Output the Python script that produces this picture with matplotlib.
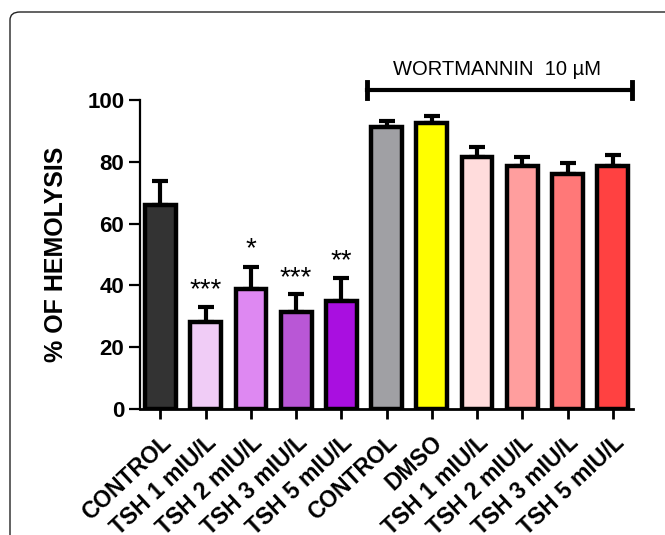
import matplotlib
matplotlib.use("Agg")
import matplotlib.pyplot as plt
from matplotlib.patches import FancyBboxPatch
import numpy as np

categories = ["CONTROL", "TSH 1 mIU/L", "TSH 2 mIU/L", "TSH 3 mIU/L", "TSH 5 mIU/L",
              "CONTROL", "DMSO", "TSH 1 mIU/L", "TSH 2 mIU/L", "TSH 3 mIU/L", "TSH 5 mIU/L"]
means = [66.0, 28.1, 39.0, 31.5, 35.0, 91.4, 92.6, 81.7, 78.5, 76.0, 78.5]
errors = [7.8, 4.8, 6.9, 5.7, 7.5, 1.8, 2.2, 3.0, 3.0, 3.5, 3.7]
colors = ["#333333", "#f0ccf6", "#de88f2", "#b957d6", "#a90fe0",
          "#a0a0a4", "#ffff00", "#ffdcdc", "#ff9e9e", "#ff7878", "#ff4141"]
stars = {1: "***", 2: "*", 3: "***", 4: "**"}
star_y = {1: 38.5, 2: 51.8, 3: 42.2, 4: 48.0}
yticks = [0, 20, 40, 60, 80, 100]
bracket_label = "WORTMANNIN  10 µM"

plt.rcParams['font.family'] = ['Liberation Sans', 'DejaVu Sans']

fig = plt.figure(figsize=(6.65, 5.35), dpi=100)
ax = fig.add_axes([0.21, 0.2355, 0.742, 0.5775])

x = np.arange(len(categories))
ax.bar(x, means, width=0.68, color=colors, edgecolor="black", linewidth=3.2, zorder=3)
ax.errorbar(x, means, yerr=[np.zeros(len(means)), errors], fmt="none",
            ecolor="black", elinewidth=3, capsize=6, capthick=3, zorder=2)

for i, s in stars.items():
    ax.text(x[i], star_y[i], s, ha="center", va="center", fontsize=20, color="black")

ax.set_xlim(-0.46, 10.45)
ax.set_ylim(0, 100)
ax.set_yticks(yticks)
ax.set_yticklabels([str(t) for t in yticks], fontsize=16, fontweight="bold")
ax.set_xticks(x)
ax.set_xticklabels(categories, rotation=43, ha="right", rotation_mode="anchor",
                   fontsize=16.5, fontweight="bold")
ax.tick_params(axis="y", direction="out", length=8, width=1.6, pad=3)
ax.tick_params(axis="x", direction="out", length=7, width=2, pad=9)
ax.set_ylabel("% OF HEMOLYSIS", fontsize=18, fontweight="bold", labelpad=14)

for side in ["top", "right"]:
    ax.spines[side].set_visible(False)
ax.spines["left"].set_linewidth(1.6)
ax.spines["bottom"].set_linewidth(2)

# bracket
bx0, bx1, by = 4.56, 10.42, 103.3
ax.plot([bx0, bx1], [by, by], color="black", lw=3, clip_on=False)
ax.plot([bx0, bx0], [by - 2.5, by + 2.5], color="black", lw=3.5, clip_on=False)
ax.plot([bx1, bx1], [by - 2.5, by + 2.5], color="black", lw=3.5, clip_on=False)
ax.text((bx0 + bx1) / 2 - 0.05, 109.8, bracket_label, ha="center", va="center",
        fontsize=14.5, clip_on=False)

# frame border
border = FancyBboxPatch((10 / 665, -0.2), 1.2, (535 - 12) / 535 + 0.2,
                        boxstyle="round,pad=0,rounding_size=0.015",
                        transform=fig.transFigure, fill=False,
                        edgecolor="#222222", linewidth=1.0)
fig.patches.append(border)

fig.savefig("out.png", dpi=100)
